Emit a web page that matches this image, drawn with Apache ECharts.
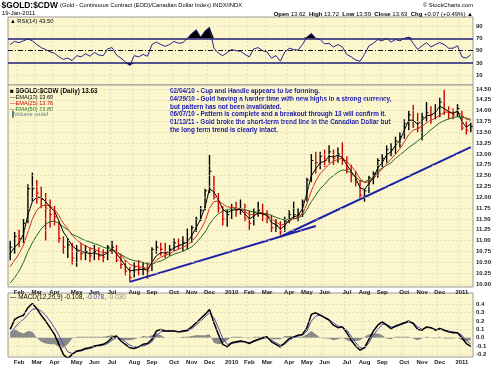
<!DOCTYPE html>
<html><head><meta charset="utf-8">
<script src="https://cdn.jsdelivr.net/npm/echarts@6/dist/echarts.min.js"></script>
<style>html,body{margin:0;padding:0;background:#fff}#c{width:500px;height:374px}</style>
</head><body><div id="c"></div>
<script>
// ---- data (weekly readings, week-centre dates) ----
const dates = ['2009-01-21','2009-01-28','2009-02-04','2009-02-11','2009-02-18','2009-02-25','2009-03-04','2009-03-11','2009-03-18','2009-03-25','2009-04-01','2009-04-08','2009-04-15','2009-04-22','2009-04-29','2009-05-06','2009-05-13','2009-05-20','2009-05-27','2009-06-03','2009-06-10','2009-06-17','2009-06-24','2009-07-01','2009-07-08','2009-07-15','2009-07-22','2009-07-29','2009-08-05','2009-08-12','2009-08-19','2009-08-26','2009-09-02','2009-09-09','2009-09-16','2009-09-23','2009-09-30','2009-10-07','2009-10-14','2009-10-21','2009-10-28','2009-11-04','2009-11-11','2009-11-18','2009-11-25','2009-12-02','2009-12-09','2009-12-16','2009-12-23','2009-12-30',
'2010-01-06','2010-01-13','2010-01-20','2010-01-27','2010-02-03','2010-02-10','2010-02-17','2010-02-24','2010-03-03','2010-03-10','2010-03-17','2010-03-24','2010-03-31','2010-04-07','2010-04-14','2010-04-21','2010-04-28','2010-05-05','2010-05-12','2010-05-19','2010-05-26','2010-06-02','2010-06-09','2010-06-16','2010-06-23','2010-06-30','2010-07-07','2010-07-14','2010-07-21','2010-07-28','2010-08-04','2010-08-11','2010-08-18','2010-08-25','2010-09-01','2010-09-08','2010-09-15','2010-09-22','2010-09-29','2010-10-06','2010-10-13','2010-10-20','2010-10-27','2010-11-03','2010-11-10','2010-11-17','2010-11-24','2010-12-01','2010-12-08','2010-12-15','2010-12-22','2010-12-29',
'2011-01-05','2011-01-12','2011-01-19'];
const high = [11.0,11.2,11.25,11.5,12.3,12.57,12.4,12.25,12.1,11.95,11.8,11.45,11.1,11.05,10.95,10.9,10.95,10.9,10.85,10.9,10.85,10.8,10.9,11.0,10.9,10.7,10.55,10.4,10.5,10.55,10.5,10.5,10.85,11.0,10.95,10.95,10.9,11.05,11.05,11.1,11.28,11.35,11.55,11.8,12.2,12.98,12.5,12.1,11.8,11.7,
11.85,11.9,11.95,11.85,11.7,11.75,11.9,11.85,11.7,11.6,11.5,11.45,11.55,11.7,11.9,11.75,11.95,12.45,13.0,13.05,13.05,13.1,13.2,13.1,13.15,13.27,12.95,12.75,12.6,12.4,12.2,12.5,12.6,12.9,13.0,13.2,13.25,13.4,13.5,13.8,14.0,14.13,13.95,13.95,14.2,14.1,14.15,14.3,14.48,14.1,14.05,14.15,14.0,13.75,13.72];
const low = [10.55,10.7,10.85,10.95,11.4,11.9,11.85,11.75,11.0,11.3,11.35,10.95,10.7,10.6,10.45,10.4,10.55,10.55,10.5,10.55,10.55,10.5,10.55,10.7,10.5,10.35,10.2,10.05,10.15,10.2,10.2,10.12,10.3,10.7,10.65,10.6,10.65,10.75,10.8,10.75,10.8,10.95,11.2,11.45,11.7,12.1,11.95,11.65,11.35,11.32,
11.5,11.55,11.6,11.45,11.25,11.35,11.55,11.45,11.4,11.2,11.2,11.13,11.2,11.4,11.5,11.45,11.55,11.9,12.35,12.55,12.65,12.7,12.8,12.75,12.8,12.75,12.55,12.35,12.25,11.95,11.9,12.1,12.3,12.45,12.7,12.8,12.95,13.0,13.15,13.35,13.55,13.6,13.5,13.32,13.75,13.7,13.8,13.85,13.9,13.8,13.8,13.85,13.55,13.45,13.5];
const close = [10.85,11.1,11.05,11.4,12.2,12.2,12.1,11.95,11.75,11.6,11.55,11.05,10.85,10.9,10.6,10.75,10.7,10.75,10.65,10.75,10.65,10.62,10.85,10.85,10.55,10.45,10.3,10.15,10.4,10.35,10.35,10.3,10.8,10.85,10.8,10.7,10.8,10.95,10.9,10.95,11.0,11.3,11.5,11.7,12.15,12.6,12.0,11.75,11.5,11.6,
11.75,11.7,11.7,11.5,11.4,11.65,11.7,11.6,11.55,11.3,11.35,11.2,11.45,11.6,11.6,11.6,11.9,12.4,12.85,12.8,12.95,12.85,13.05,12.9,13.0,12.85,12.65,12.5,12.35,12.05,12.15,12.45,12.55,12.85,12.9,13.1,13.1,13.3,13.4,13.7,13.9,13.75,13.6,13.85,13.95,13.9,14.0,14.2,14.0,13.95,13.9,14.05,13.6,13.55,13.63];
const ema13 = [10.7,10.85,10.95,11.15,11.6,11.9,12.0,12.0,11.9,11.78,11.68,11.45,11.2,11.05,10.88,10.8,10.75,10.73,10.7,10.72,10.68,10.66,10.73,10.8,10.7,10.57,10.42,10.3,10.32,10.33,10.34,10.32,10.5,10.65,10.72,10.72,10.75,10.84,10.88,10.92,10.97,11.12,11.3,11.5,11.78,12.2,12.12,11.95,11.72,11.65,
11.7,11.72,11.72,11.62,11.5,11.57,11.64,11.62,11.58,11.42,11.37,11.27,11.35,11.48,11.55,11.58,11.74,12.1,12.5,12.66,12.8,12.83,12.95,12.93,12.97,12.92,12.75,12.6,12.45,12.22,12.18,12.32,12.45,12.68,12.8,12.98,13.05,13.2,13.32,13.55,13.78,13.78,13.68,13.77,13.88,13.9,13.96,14.1,14.05,13.98,13.93,14.0,13.75,13.62,13.69];
const ema25 = [10.4,10.55,10.7,10.9,11.2,11.5,11.7,11.8,11.82,11.8,11.72,11.58,11.4,11.28,11.12,11.02,10.94,10.88,10.83,10.8,10.76,10.72,10.74,10.77,10.74,10.66,10.56,10.45,10.42,10.4,10.38,10.36,10.45,10.55,10.62,10.66,10.7,10.76,10.8,10.85,10.9,10.98,11.1,11.25,11.45,11.75,11.9,11.92,11.85,11.78,
11.77,11.75,11.73,11.68,11.6,11.6,11.63,11.62,11.6,11.5,11.44,11.36,11.38,11.45,11.5,11.54,11.62,11.85,12.15,12.38,12.55,12.65,12.77,12.83,12.88,12.9,12.83,12.72,12.6,12.43,12.34,12.36,12.42,12.55,12.65,12.78,12.88,13.0,13.12,13.28,13.45,13.55,13.58,13.64,13.72,13.78,13.83,13.9,13.96,13.97,13.95,13.97,13.9,13.8,13.78];
const ema50 = [10.02,10.15,10.3,10.5,10.75,10.95,11.12,11.27,11.38,11.44,11.45,11.4,11.32,11.25,11.15,11.1,11.05,11.0,10.97,10.93,10.9,10.85,10.82,10.8,10.75,10.68,10.62,10.57,10.54,10.52,10.5,10.46,10.46,10.5,10.53,10.58,10.64,10.69,10.72,10.76,10.8,10.86,10.95,11.07,11.2,11.38,11.52,11.62,11.68,11.72,
11.74,11.75,11.74,11.72,11.68,11.66,11.66,11.64,11.62,11.58,11.54,11.5,11.48,11.49,11.5,11.52,11.58,11.72,11.9,12.05,12.2,12.3,12.42,12.5,12.58,12.63,12.62,12.56,12.48,12.38,12.36,12.4,12.46,12.6,12.68,12.74,12.8,12.9,12.98,13.06,13.15,13.22,13.3,13.38,13.47,13.56,13.64,13.72,13.77,13.81,13.84,13.86,13.85,13.83,13.80];
const rsi = [60,65,63,66,69,66,60,55,52,48,46,40,36,38,34,42,40,45,41,47,43,42,53,55,43,38,32,26,42,40,44,41,60,64,60,57,60,65,62,63,70,78,84,72,82,88,54,46,42,47,
52,50,49,44,40,53,55,50,48,38,42,33,48,54,52,51,60,72,78,70,68,61,62,56,60,56,44,40,35,33,44,58,62,68,66,70,64,68,66,70,72,62,52,58,63,56,60,63,60,54,54,58,40,38,43.5];
const macd = [0.10,0.22,0.25,0.27,0.36,0.41,0.35,0.27,0.20,0.12,0.04,-0.08,-0.20,-0.25,-0.20,-0.16,-0.15,-0.13,-0.12,-0.10,-0.09,-0.08,-0.05,0.00,0.02,-0.04,-0.08,-0.12,-0.13,-0.11,-0.08,-0.07,-0.02,0.08,0.10,0.08,0.08,0.08,0.07,0.08,0.09,0.13,0.18,0.23,0.28,0.34,0.18,0.04,-0.08,-0.11,
-0.06,-0.05,-0.04,-0.05,-0.07,-0.04,-0.02,0.00,0.01,-0.05,-0.08,-0.11,-0.06,-0.01,0.01,0.03,0.04,0.12,0.28,0.30,0.27,0.24,0.21,0.15,0.12,0.13,0.06,-0.03,-0.10,-0.15,-0.12,-0.02,0.08,0.15,0.19,0.15,0.11,0.14,0.16,0.18,0.20,0.17,0.10,0.09,0.13,0.12,0.09,0.11,0.09,0.07,0.06,0.06,0.00,-0.07,-0.108];
const signal = [0.05,0.12,0.18,0.22,0.28,0.34,0.35,0.32,0.27,0.20,0.12,0.03,-0.08,-0.17,-0.19,-0.17,-0.16,-0.14,-0.13,-0.11,-0.10,-0.09,-0.07,-0.03,0.00,-0.01,-0.05,-0.09,-0.11,-0.11,-0.10,-0.08,-0.05,0.03,0.07,0.08,0.08,0.08,0.07,0.07,0.08,0.11,0.15,0.20,0.25,0.30,0.24,0.12,-0.01,-0.08,
-0.07,-0.06,-0.05,-0.05,-0.06,-0.05,-0.03,-0.01,0.00,-0.03,-0.06,-0.09,-0.08,-0.03,0.00,0.02,0.03,0.08,0.20,0.26,0.27,0.25,0.22,0.18,0.14,0.13,0.09,0.02,-0.06,-0.12,-0.13,-0.06,0.03,0.10,0.16,0.16,0.13,0.13,0.15,0.17,0.19,0.18,0.13,0.10,0.12,0.12,0.10,0.10,0.10,0.08,0.07,0.06,0.03,-0.03,-0.078];
const hist = [0.05,0.10,0.07,0.05,0.08,0.07,0.00,-0.05,-0.07,-0.08,-0.08,-0.11,-0.12,-0.08,-0.01,0.01,0.01,0.01,0.01,0.01,0.01,0.01,0.02,0.03,0.02,-0.03,-0.03,-0.03,-0.02,0.00,0.02,0.01,0.03,0.05,0.03,0.00,0.00,0.00,0.00,0.01,0.01,0.02,0.03,0.03,0.03,0.04,-0.06,-0.08,-0.07,-0.03,
0.01,0.01,0.01,0.00,-0.01,0.01,0.01,0.01,0.01,-0.02,-0.02,-0.02,0.02,0.02,0.01,0.01,0.01,0.04,0.08,0.04,0.00,-0.01,-0.01,-0.03,-0.02,0.00,-0.03,-0.05,-0.04,-0.03,0.01,0.04,0.05,0.05,0.03,-0.01,-0.02,0.01,0.01,0.01,0.01,-0.01,-0.03,-0.01,0.01,0.00,-0.01,0.01,-0.01,-0.01,-0.01,0.00,-0.03,-0.04,-0.03];
const priceTicks = [10.00,10.25,10.50,10.75,11.00,11.25,11.50,11.75,12.00,12.25,12.50,12.75,13.00,13.25,13.50,13.75,14.00,14.25,14.50];
const rsiTicks = [10,30,50,70,90];
const macdTicks = [-0.2,-0.1,0.0,0.1,0.2,0.3,0.4];
const trendA = [['2009-07-29',10.05],['2010-05-19',11.34]];
const trendB = [['2010-03-24',11.09],['2011-01-19',13.16]];
const notes = ['02/04/10 - Cup and Handle appears to be forming.',
'04/29/10 - Gold having a harder time with new highs in a strong currency,',
'but pattern has not been invalidated.',
'06/07/10 - Pattern is complete and a breakout through 13 will confirm it.',
'01/13/11 - Gold broke the short-term trend line in the Canadian Dollar but',
'the long term trend is clearly intact.'];

// ---- chart ----
const F = 'Liberation Sans';
const chart = echarts.init(document.getElementById('c'), null, {renderer:'canvas', width:500, height:374});
const isMonthStart = dates.map((d,i)=> i>0 && d.slice(5,7)!==dates[i-1].slice(5,7));
const MN = ['Jan','Feb','Mar','Apr','May','Jun','Jul','Aug','Sep','Oct','Nov','Dec'];
const monthLabel = d => { const m = +d.slice(5,7); return m===1 ? d.slice(0,4) : MN[m-1]; };
const BG = '#fbf6cb';
const GL = {color:'#d4d0b6', width:0.6, type:[2,2]};
const L = 8, R = 27;
const grids = [
  {left:L, right:R, top:17, height:68},
  {left:L, right:R, top:85, height:202},
  {left:L, right:R, top:293, height:64}
].map(g=>Object.assign(g,{show:true, backgroundColor:BG, borderColor:'#999', borderWidth:1}));
function xa(gi, lab){
  return {type:'category', gridIndex:gi, data:dates, boundaryGap:true,
    axisLine:{show:false}, axisTick:{show:false},
    axisLabel:{show:lab, interval:(i)=>isMonthStart[i], formatter:v=>monthLabel(v), fontSize:6, fontWeight:'bold', fontFamily:F, color:'#222', margin:2},
    splitLine:{show:true, interval:(i)=>isMonthStart[i], lineStyle:GL}};
}
function ya(gi, min, max, ticks, dec){
  return {type:'value', gridIndex:gi, position:'right', min:min, max:max, scale:true,
    axisLine:{show:false}, axisTick:{show:false}, splitLine:{show:false},
    axisLabel:{customValues:ticks, formatter:v=>v.toFixed(dec), fontSize:6, fontWeight:'bold', fontFamily:F, color:'#222', margin:3}};
}
const mlBase = {silent:true, symbol:'none', label:{show:false}, emphasis:{disabled:true}, animation:false};
const series = [
  // RSI
  {type:'line', xAxisIndex:0, yAxisIndex:0, data:rsi, symbol:'none', lineStyle:{opacity:0}, z:1,
    markLine:Object.assign({}, mlBase, {data:[{yAxis:10, lineStyle:GL},{yAxis:90, lineStyle:GL}]})},
  {type:'line', xAxisIndex:0, yAxisIndex:0, data:rsi.map(v=>Math.max(v,70)), symbol:'none', lineStyle:{width:0}, areaStyle:{color:'#000', opacity:1, origin:70}, z:2},
  {type:'line', xAxisIndex:0, yAxisIndex:0, data:rsi.map(v=>Math.min(v,30)), symbol:'none', lineStyle:{width:0}, areaStyle:{color:'#000', opacity:1, origin:30}, z:2},
  {type:'line', xAxisIndex:0, yAxisIndex:0, data:rsi, symbol:'none', lineStyle:{color:'#24248c', width:1}, z:4,
    markLine:Object.assign({}, mlBase, {data:[
      {yAxis:70, lineStyle:{color:'#1e1e78', width:1.5, type:'solid'}},
      {yAxis:30, lineStyle:{color:'#1e1e78', width:1.5, type:'solid'}},
      {yAxis:50, lineStyle:{color:'#111', width:1, type:[5,2,1,2]}}]})},
  // price gridlines
  {type:'line', xAxisIndex:1, yAxisIndex:1, data:close, symbol:'none', lineStyle:{opacity:0}, z:1,
    markLine:Object.assign({}, mlBase, {data:priceTicks.map(v=>({yAxis:v, lineStyle:GL}))})},
  // price bars
  {type:'custom', xAxisIndex:1, yAxisIndex:1, z:2,
    data:dates.map((d,i)=>[i, high[i], low[i], close[i]]),
    encode:{x:0, y:[1,2,3]},
    renderItem:function(params, api){
      const i = api.value(0);
      const t = api.coord([i, api.value(1)]);
      const b = api.coord([i, api.value(2)]);
      const c = api.coord([i, api.value(3)]);
      const up = i===0 || close[i] >= close[i-1];
      const col = up ? '#000' : '#cc0000';
      return {type:'group', children:[
        {type:'line', shape:{x1:t[0], y1:t[1], x2:b[0], y2:b[1]}, style:{stroke:col, lineWidth:1.4}},
        {type:'line', shape:{x1:c[0], y1:c[1], x2:c[0]+2, y2:c[1]}, style:{stroke:col, lineWidth:1}}
      ]};
    }},
  {type:'line', xAxisIndex:1, yAxisIndex:1, data:ema50, symbol:'none', lineStyle:{color:'#1f6b1f', width:1}, z:3},
  {type:'line', xAxisIndex:1, yAxisIndex:1, data:ema25, symbol:'none', lineStyle:{color:'#d42a1a', width:1}, z:3},
  {type:'line', xAxisIndex:1, yAxisIndex:1, data:ema13, symbol:'none', lineStyle:{color:'#000', width:1}, z:3},
  {type:'line', xAxisIndex:1, yAxisIndex:1, data:trendA, symbol:'none', lineStyle:{color:'#2020a8', width:2}, z:4},
  {type:'line', xAxisIndex:1, yAxisIndex:1, data:trendB, symbol:'none', lineStyle:{color:'#2020a8', width:2}, z:4},
  // MACD
  {type:'line', xAxisIndex:2, yAxisIndex:2, data:macd, symbol:'none', lineStyle:{opacity:0}, z:1,
    markLine:Object.assign({}, mlBase, {data:macdTicks.map(v=>({yAxis:v, lineStyle:GL}))})},
  {type:'line', xAxisIndex:2, yAxisIndex:2, data:hist, symbol:'none', lineStyle:{width:0}, areaStyle:{color:'#8a8a8a', opacity:1, origin:0}, z:2},
  {type:'line', xAxisIndex:2, yAxisIndex:2, data:signal, symbol:'none', lineStyle:{color:'#4a4ab8', width:1}, z:3},
  {type:'line', xAxisIndex:2, yAxisIndex:2, data:macd, symbol:'none', lineStyle:{color:'#000', width:1.5}, z:4}
];
const txt = (x,y,text,font,fill,align)=>({type:'text', x:x, y:y, silent:true, style:{text:text, font:font, fill:fill||'#000', textAlign:align||'left', textVerticalAlign:'middle'}});
const graphics = [
  txt(1.5,5.5,'$GOLD:$CDW','bold 8.4px "'+F+'"','#000'),
  txt(60,5.5,'(Gold - Continuous Contract (EOD)/Canadian Dollar Index) INDX/INDX','5.8px "'+F+'"','#000'),
  txt(2,13,'19-Jan-2011','6px "'+F+'"','#000'),
  txt(473,5,'\u00a9 StockCharts.com','5.8px "'+F+'"','#000','right'),
  {type:'text', x:473, y:14, silent:true, style:{
    text:'{b|Open} 13.62  {b|High} 13.72  {b|Low} 13.59  {b|Close} 13.63  {b|Chg} +0.07 (+0.49%) \u25b2',
    font:'6px "'+F+'"', fill:'#000', textAlign:'right', textVerticalAlign:'middle',
    rich:{b:{font:'bold 6px "'+F+'"', fill:'#000'}}}},
  txt(10,21,'\u25b2 RSI(14) 43.50','5.8px "'+F+'"','#000'),
  txt(10,91,'\u25a0 $GOLD:$CDW (Daily) 13.63','bold 6.4px "'+F+'"','#000'),
  txt(10,97,'\u2014EMA(13) 13.69','5.6px "'+F+'"','#000'),
  txt(10,103,'\u2014EMA(25) 13.78','5.6px "'+F+'"','#cc0000'),
  txt(10,109,'\u2014EMA(50) 13.80','5.6px "'+F+'"','#1f6b1f'),
  txt(10,114.5,'\u2590Volume undef','5.6px "'+F+'"','#5f7f7f'),
  {type:'text', x:10, y:297.5, silent:true, style:{
    text:'\u2014 MACD(12,26,9) -0.108, {s|-0.078,} {h|-0.030}',
    font:'6.4px "'+F+'"', fill:'#000', textVerticalAlign:'middle',
    rich:{s:{font:'6.4px "'+F+'"', fill:'#3a3aa8'}, h:{font:'6.4px "'+F+'"', fill:'#888'}}}}
];
notes.forEach((n,k)=>graphics.push(txt(170, 91.7 + k*7.65, n, 'bold 6.4px "'+F+'"', '#1212b0')));

chart.setOption({
  animation:false,
  backgroundColor:'#fff',
  grid:grids,
  xAxis:[xa(0,false), xa(1,true), xa(2,true)],
  yAxis:[ya(0,-5.6,104.6,rsiTicks,0), ya(1,9.931,14.592,priceTicks,2), ya(2,-0.232,0.537,macdTicks,1)],
  series:series,
  graphic:graphics
});
</script>
</body></html>
